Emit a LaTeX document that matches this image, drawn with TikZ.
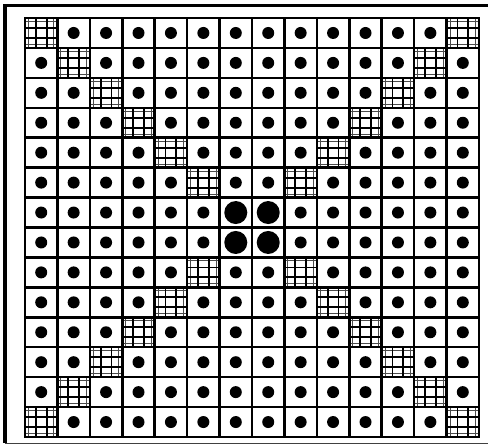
\documentclass[tikz,border=0pt]{standalone}
\begin{document}
\begin{tikzpicture}[x=1pt,y=-1pt]
\useasboundingbox (0,0) rectangle (488,446);
\def\W{32.43}
\def\H{29.93}
\tikzset{
  cell/.style={draw, line width=2.5pt, minimum width=32.43pt, minimum height=29.93pt, inner sep=0pt, outer sep=0pt},
  smalldot/.style={circle, fill=black, inner sep=0pt, minimum size=12pt},
  bigdot/.style={circle, fill=black, inner sep=0pt, minimum size=23pt},
  hatchline/.style={line width=1.8pt},
  hatchthin/.style={line width=0.9pt, draw=black!70},
  frameline/.style={line width=3.5pt},
  framebottom/.style={line width=1.4pt, draw=black!75}
}
% outer frame (right side falls outside the picture)
\draw[frameline] (488,5.5) -- (5,5.5) -- (5,443.5);
\draw[framebottom] (5,443.5) -- (488,443.5);
\foreach \i in {0,...,13} {
  \foreach \j in {0,...,13} {
    \pgfmathsetmacro\cx{25+(\j+0.5)*\W}
    \pgfmathsetmacro\cy{18+(\i+0.5)*\H}
    \pgfmathsetmacro\xl{25+\j*\W}
    \pgfmathsetmacro\xr{25+(\j+1)*\W}
    \pgfmathsetmacro\yt{18+\i*\H}
    \pgfmathsetmacro\yb{18+(\i+1)*\H}
    \pgfmathtruncatemacro\diag{(\i==\j || \i+\j==13) ? 1 : 0}
    \pgfmathtruncatemacro\ctr{(\i>5 && \i<8 && \j>5 && \j<8) ? 1 : 0}
    \ifnum\ctr=1
      \node[cell] (c\i-\j) at (\cx,\cy) {};
      \node[bigdot] (d\i-\j) at (c\i-\j.center) {};
    \else
      \ifnum\diag=1
        \draw[hatchthin] ({\xl+3.5},\yt) -- ({\xl+3.5},\yb)
                         ({\xr-3.5},\yt) -- ({\xr-3.5},\yb)
                         (\xl,{\yt+3.5}) -- (\xr,{\yt+3.5})
                         (\xl,{\yb-3.5}) -- (\xr,{\yb-3.5});
        \foreach \k in {1,2} {
          \pgfmathsetmacro\hx{\xl+\k*\W/3}
          \pgfmathsetmacro\hy{\yt+\k*\H/3}
          \draw[hatchline] (\hx,\yt) -- (\hx,\yb);
          \draw[hatchline] (\xl,\hy) -- (\xr,\hy);
        }
        \node[cell] (c\i-\j) at (\cx,\cy) {};
      \else
        \node[cell] (c\i-\j) at (\cx,\cy) {};
        \node[smalldot] (d\i-\j) at (c\i-\j.center) {};
      \fi
    \fi
  }
}
\end{tikzpicture}
\end{document}
